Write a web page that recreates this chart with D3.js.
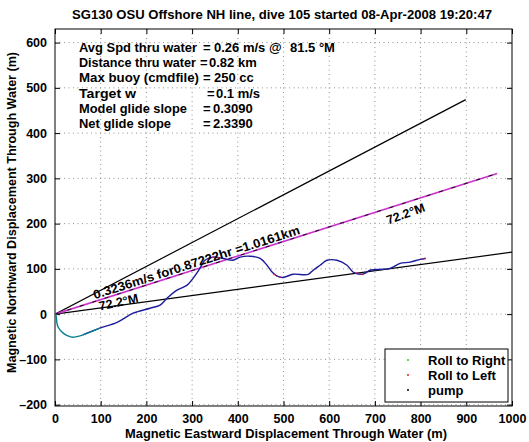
<!DOCTYPE html>
<html>
<head>
<meta charset="utf-8">
<script src="https://cdn.jsdelivr.net/npm/d3@7"></script>
<style>
  html, body { margin: 0; padding: 0; background: #fff; }
  svg { display: block; font-family: "Liberation Sans", Arial, Helvetica, sans-serif; font-weight: bold; }
</style>
</head>
<body>
<svg id="chart" width="529" height="442"></svg>
<script>
// ---------------- data ----------------
const titleText = "SG130 OSU Offshore NH line, dive 105 started 08-Apr-2008 19:20:47";
const xLabelText = "Magnetic Eastward Displacement Through Water (m)";
const yLabelText = "Magnetic Northward Displacement Through Water (m)";
const xTicks = [0, 100, 200, 300, 400, 500, 600, 700, 800, 900, 1000];
const yTicks = [-200, -100, 0, 100, 200, 300, 400, 500, 600];
const xDomain = [0, 1000];
const yDomain = [-203, 630];

// glider track (east, north) in metres
const trackEast  = [0, 2, 4, 7, 18, 28, 39, 61, 98, 136, 171, 208, 230, 245, 267, 289, 302, 317, 328, 346, 368, 389, 405, 427, 449, 464, 475, 486, 499, 521, 554, 565, 580, 595, 617, 639, 652, 667, 678, 689, 718, 733, 755, 777, 799, 810];
const trackNorth = [0, -2, -18, -29, -42, -48, -51, -46, -31, -18, 2, 13, 20, 35, 53, 64, 79, 101, 119, 126, 123, 119, 126, 128, 123, 108, 93, 84, 81, 88, 88, 97, 108, 119, 119, 108, 93, 88, 90, 97, 99, 101, 112, 115, 121, 123];
// index where the track colour changes from teal (descent start) to blue
const tealEndIndex = 8;
// "Roll to Left" marker locations (east, north)
const rollLeftEast  = [340, 346, 352, 358, 480, 486, 492, 660, 667, 674, 806, 810];
const rollLeftNorth = [124, 126, 125, 124, 88, 84, 82, 91, 88, 88, 122, 123];

// heading / distance lines
const headingDeg = 72.2;
const lineLengthM = 1016.1;
const coneHalfAngleDeg = 10;
const speedLabel = "0.3236m/s for0.87222hr =1.0161km";
const headingLabel = "72.2°M";

// info block
const infoLabels = ["Avg Spd thru water", "Distance thru water", "Max buoy (cmdfile)", "Target w", "Model glide slope", "Net glide slope"];
const infoValues = ["0.26 m/s @", "0.82 km", "250 cc", "0.1 m/s", "0.3090", "2.3390"];
const infoExtra = ["81.5 °M", "", "", "", "", ""];

const legendLabels = ["Roll to Right", "Roll to Left", "pump"];
const legendColors = ["#22cc22", "#dd2222", "#000000"];

// ---------------- layout ----------------
const svg = d3.select("#chart");
const L = 55, R = 512, T = 29, B = 406;
const x = d3.scaleLinear().domain(xDomain).range([L, R]);
const y = d3.scaleLinear().domain(yDomain).range([B, T]);

function setWidth(sel, w) {
  sel.attr("textLength", w).attr("lengthAdjust", "spacingAndGlyphs");
}

svg.append("defs").append("clipPath").attr("id", "clip")
  .append("rect").attr("x", L).attr("y", T).attr("width", R - L).attr("height", B - T);

// grid
const grid = svg.append("g").attr("stroke", "#777").attr("stroke-width", 0.8).attr("stroke-dasharray", "1,3.5");
xTicks.slice(1, -1).forEach(t => grid.append("line").attr("x1", x(t)).attr("x2", x(t)).attr("y1", T).attr("y2", B));
yTicks.forEach(t => { if (y(t) > T + 1 && y(t) < B - 1) grid.append("line").attr("x1", L).attr("x2", R).attr("y1", y(t)).attr("y2", y(t)); });

// axes (ticks inward on all four sides)
const tickLen = 5;
const axB = svg.append("g").attr("transform", `translate(0,${B})`)
  .call(d3.axisBottom(x).tickValues(xTicks).tickSizeInner(-tickLen).tickSizeOuter(0).tickPadding(8).tickFormat(d3.format("d")));
const axL = svg.append("g").attr("transform", `translate(${L},0)`)
  .call(d3.axisLeft(y).tickValues(yTicks).tickSizeInner(-tickLen).tickSizeOuter(0).tickPadding(8).tickFormat(d => d < 0 ? "\u2013" + Math.abs(d) : d));
const axT = svg.append("g").attr("transform", `translate(0,${T})`)
  .call(d3.axisTop(x).tickValues(xTicks).tickSizeInner(-tickLen).tickSizeOuter(0).tickFormat(""));
const axR = svg.append("g").attr("transform", `translate(${R},0)`)
  .call(d3.axisRight(y).tickValues(yTicks).tickSizeInner(-tickLen).tickSizeOuter(0).tickFormat(""));
[axB, axL, axT, axR].forEach(a => {
  a.select(".domain").remove();
  a.selectAll("line").attr("stroke", "#000");
  a.selectAll("text").attr("fill", "#000").style("font-size", "12.5px").style("font-weight", "bold").style("font-family", "Liberation Sans, Arial, sans-serif");
});
svg.append("rect").attr("x", L).attr("y", T).attr("width", R - L).attr("height", B - T)
  .attr("fill", "none").attr("stroke", "#000").attr("stroke-width", 1);

// lines
const plot = svg.append("g").attr("clip-path", "url(#clip)");
const rad = d => d * Math.PI / 180;
function endPoint(h) { return [lineLengthM * Math.sin(rad(h)), lineLengthM * Math.cos(rad(h))]; }
const lineGen = d3.line().x(d => x(d[0])).y(d => y(d[1]));
[headingDeg - coneHalfAngleDeg, headingDeg + coneHalfAngleDeg].forEach(h => {
  plot.append("path").datum([[0, 0], endPoint(h)]).attr("d", lineGen)
    .attr("stroke", "#000").attr("stroke-width", 1.2).attr("fill", "none");
});
plot.append("path").datum([[0, 0], endPoint(headingDeg)]).attr("d", lineGen)
  .attr("stroke", "#cc33cc").attr("stroke-width", 1.6).attr("fill", "none");
plot.append("path").datum([[0, 0], endPoint(headingDeg)]).attr("d", lineGen)
  .attr("stroke", "#000").attr("stroke-width", 0.9).attr("stroke-dasharray", "4,9").attr("fill", "none");

// track
const track = trackEast.map((e, i) => [e, trackNorth[i]]);
const smooth = d3.line().x(d => x(d[0])).y(d => y(d[1])).curve(d3.curveCatmullRom);
plot.append("path").datum(track.slice(tealEndIndex - 1)).attr("d", smooth)
  .attr("stroke", "#1c1c9c").attr("stroke-width", 1.4).attr("fill", "none");
plot.append("path").datum(track.slice(0, tealEndIndex + 1)).attr("d", smooth)
  .attr("stroke", "#0a7f8f").attr("stroke-width", 1.4).attr("fill", "none");
plot.selectAll(".rl").data(rollLeftEast).enter().append("circle")
  .attr("cx", (d) => x(d)).attr("cy", (d, i) => y(rollLeftNorth[i])).attr("r", 0.9).attr("fill", "#cc2266");

// line labels
const pxAngle = -Math.atan2(y(0) - y(endPoint(headingDeg)[1]), x(endPoint(headingDeg)[0]) - x(0)) * 180 / Math.PI;
const sl = svg.append("text").attr("transform", `translate(${x(87)},${y(33)}) rotate(${pxAngle})`)
  .style("font-size", "12.5px").text(speedLabel);
setWidth(sl, 216);
const hl1 = svg.append("text").attr("transform", `translate(${x(98)},${y(8)}) rotate(-12)`)
  .style("font-size", "12.5px").text(headingLabel);
setWidth(hl1, 40);
const hl2 = svg.append("text").attr("transform", `translate(${x(729)},${y(198)}) rotate(${pxAngle - 2})`)
  .style("font-size", "12.5px").text(headingLabel);
setWidth(hl2, 40);

// info block
const eqX = [203, 200, 203, 207, 203, 203];
const valX = [214, 209, 214, 216, 213, 213];
const labW = [118, 117, 120, 57, 108, 92];
infoLabels.forEach((lab, i) => {
  const yy = 52 + i * 15.2;
  const g = svg.append("g").style("font-size", "13px");
  setWidth(g.append("text").attr("x", 79).attr("y", yy).text(lab), labW[i]);
  g.append("text").attr("x", eqX[i]).attr("y", yy).text("=");
  g.append("text").attr("x", valX[i]).attr("y", yy).text(infoValues[i]);
  if (infoExtra[i]) g.append("text").attr("x", 290).attr("y", yy).text(infoExtra[i]);
});

// legend
const lg = svg.append("g");
lg.append("rect").attr("x", 385).attr("y", 349).attr("width", 123).attr("height", 53)
  .attr("fill", "#fff").attr("stroke", "#000").attr("stroke-width", 1);
legendLabels.forEach((lab, i) => {
  const yy = 360 + i * 15;
  lg.append("circle").attr("cx", 408).attr("cy", yy).attr("r", 1).attr("fill", legendColors[i]);
  lg.append("text").attr("x", 428).attr("y", yy + 4.5).style("font-size", "13px").text(lab);
});

// title and axis labels
const tt = svg.append("text").attr("x", 72).attr("y", 19).style("font-size", "13.5px").text(titleText);
setWidth(tt, 420);
const xl = svg.append("text").attr("x", 125).attr("y", 438).style("font-size", "12.5px").text(xLabelText);
setWidth(xl, 322);
const yl = svg.append("text").attr("transform", "translate(16,373) rotate(-90)").style("font-size", "12.5px").text(yLabelText);
setWidth(yl, 321);
</script>
</body>
</html>
